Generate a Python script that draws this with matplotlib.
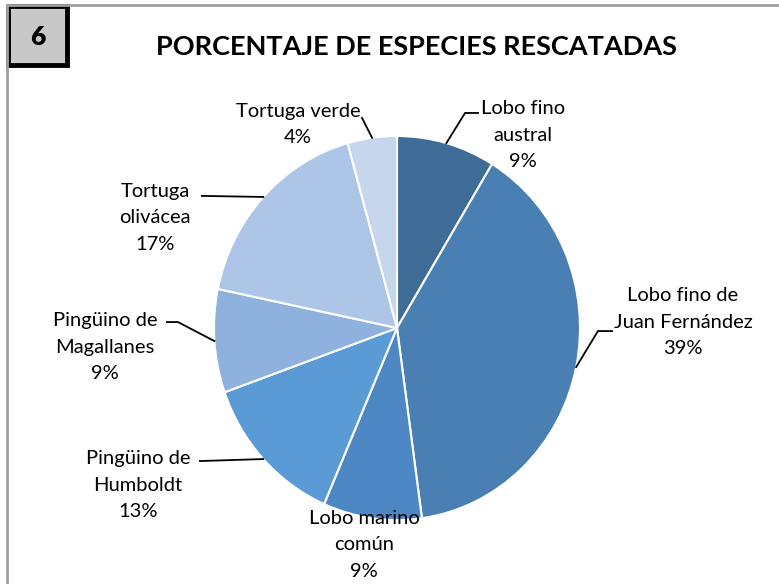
import matplotlib
matplotlib.use("Agg")
import matplotlib.pyplot as plt
from matplotlib.patches import Rectangle
import numpy as np

plt.rcParams['font.family'] = ['Lato', 'DejaVu Sans']

# datos: numero de ejemplares rescatados por especie
especies = ["Lobo fino\naustral", "Lobo fino de\nJuan Fernández", "Lobo marino\ncomún",
            "Pingüino de\nHumboldt", "Pingüino de\nMagallanes", "Tortuga\nolivácea",
            "Tortuga verde"]
cantidades = [2, 9, 2, 3, 2, 4, 1]
colores = ["#3F6C97", "#4A7FB4", "#4D88C4", "#5B9BD5", "#8FB1DD", "#ADC5E6", "#C6D6EC"]

# posiciones de las etiquetas (coordenadas del eje) y puntos de quiebre de las guias
pos_etiquetas = [(0.69, 1.005), (1.563, 0.031), (-0.18, -1.13), (-1.415, -0.818),
                 (-1.596, -0.099), (-1.322, 0.573), (-0.541, 1.062)]
guias = [[(0.443, 1.12), (0.372, 1.12)],
         [(1.175, -0.016), (1.098, -0.016)],
         None,
         [(-1.077, -0.693)],
         [(-1.257, 0.031), (-1.197, 0.031)],
         [(-1.066, 0.688)],
         [(-0.191, 1.094)]]

W, H = 779, 584
fig = plt.figure(figsize=(W / 100, H / 100), dpi=100)

# pie centrado en (397, 328) px, radios 183 x 192 px
cx, cy, rx, ry = 397, 328, 183, 192
ax = fig.add_axes([(cx - rx) / W, (H - cy - ry) / H, 2 * rx / W, 2 * ry / H])
wedges, _ = ax.pie(cantidades, colors=colores, startangle=90, counterclock=False,
                   wedgeprops=dict(edgecolor="white", linewidth=1.5))
ax.set_xlim(-1, 1)
ax.set_ylim(-1, 1)
ax.set_aspect("auto")
ax.axis("off")

total = sum(cantidades)
for w, nombre, n, pos, guia in zip(wedges, especies, cantidades, pos_etiquetas, guias):
    pct = round(100 * n / total)
    ax.text(pos[0], pos[1], f"{nombre}\n{pct}%", ha="center", va="center",
            fontsize=14.5, linespacing=1.65, color="#000000")
    if guia is None:
        continue
    ang = np.deg2rad((w.theta1 + w.theta2) / 2)
    pts = guia + [(np.cos(ang), np.sin(ang))]
    xs, ys = zip(*pts)
    ax.plot(xs, ys, color="black", linewidth=1.3, clip_on=False)

# marco del grafico
fig.add_artist(plt.Line2D([7 / W, 1], [1 - 5 / H, 1 - 5 / H], color="#A0A0A0", linewidth=2))
fig.add_artist(plt.Line2D([7 / W, 7 / W], [0, 1 - 5 / H], color="#A0A0A0", linewidth=2))

# recuadro con el numero
fig.add_artist(Rectangle((8 / W, 1 - 65 / H), 59 / W, 59 / H, transform=fig.transFigure,
                         facecolor="#C8C8C8", edgecolor="black", linewidth=3.5))
fig.text(38 / W, 1 - 37 / H, "6", ha="center", va="center", fontsize=19, fontweight="heavy")

fig.text(416 / W, 1 - 47 / H, "PORCENTAJE DE ESPECIES RESCATADAS", ha="center", va="center",
         fontsize=19.5, fontweight="bold")

fig.savefig("out.png", dpi=100)
